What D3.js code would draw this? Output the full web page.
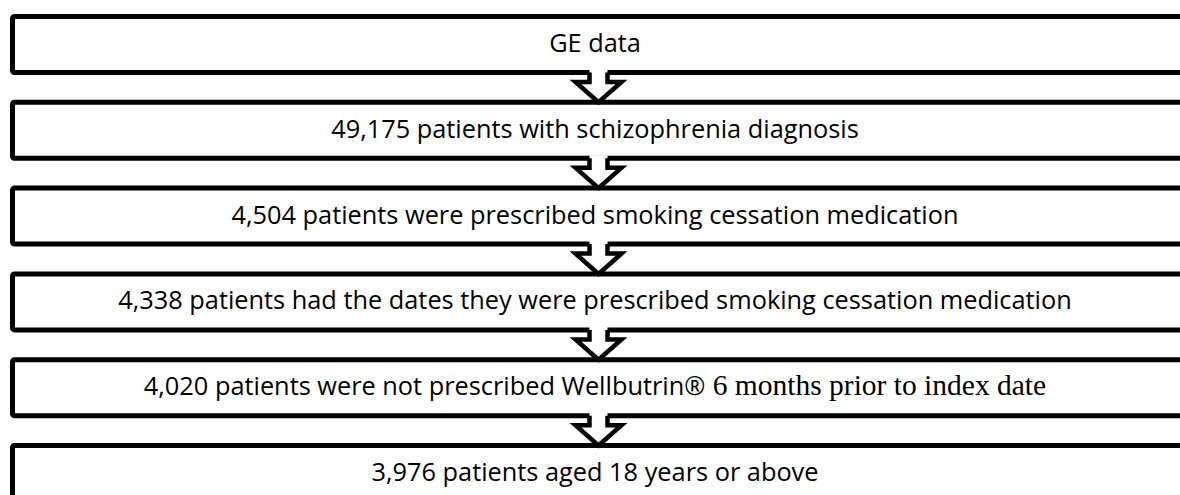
<!DOCTYPE html>
<html>
<head>
<meta charset="utf-8">
<script src="https://cdn.jsdelivr.net/npm/d3@7"></script>
<style>
  html, body { margin: 0; padding: 0; background: #fff; }
  svg { display: block; }
</style>
</head>
<body>
<div id="chart"></div>
<script>
// ---- data ----
const steps = [
  "GE data",
  "49,175 patients with schizophrenia diagnosis",
  "4,504 patients were prescribed smoking cessation medication",
  "4,338 patients had the dates they were prescribed smoking cessation medication",
  "4,020 patients were not prescribed Wellbutrin®",
  "3,976 patients aged 18 years or above"
];
const serifTails = ["", "", "", "", " 6 months prior to index date", ""];

// ---- layout ----
const W = 1180, H = 495;
const boxOuterH = 61, border = 5;
const textCX = 595, arrowCX = 598.5;
const shaftHalf = 9, wingHalf = 23, wingDrop = 9.5;
const targetWidestText = 954;

const svg = d3.select("#chart").append("svg")
  .attr("width", W).attr("height", H);

const y = d3.scaleLinear().domain([0, steps.length - 1]).range([14, 443]);

// boxes
svg.selectAll("rect.box").data(steps).join("rect")
  .attr("class", "box")
  .attr("x", 10 + border / 2)
  .attr("y", (d, i) => y(i) + border / 2)
  .attr("width", 1250)
  .attr("height", boxOuterH - border)
  .attr("rx", 2)
  .attr("fill", "#fff")
  .attr("stroke", "#000")
  .attr("stroke-width", border);

// arrows
const arrows = d3.range(steps.length - 1).map(i => {
  const yb = y(i) + boxOuterH - border / 2;
  const yt = y(i + 1) + border / 2;
  return { yb, yw: yb + wingDrop, yt };
});
const cx = arrowCX;
svg.selectAll("path.afill").data(arrows).join("path")
  .attr("class", "afill")
  .attr("d", a => d3.line()([
    [cx - shaftHalf, a.yb - 3], [cx - shaftHalf, a.yw], [cx - wingHalf, a.yw],
    [cx, a.yt], [cx + wingHalf, a.yw], [cx + shaftHalf, a.yw], [cx + shaftHalf, a.yb - 3]
  ]) + "Z")
  .attr("fill", "#fff").attr("stroke", "none");
svg.selectAll("path.aline").data(arrows).join("path")
  .attr("class", "aline")
  .attr("d", a => d3.line()([
    [cx - shaftHalf, a.yb], [cx - shaftHalf, a.yw], [cx - wingHalf, a.yw],
    [cx, a.yt], [cx + wingHalf, a.yw], [cx + shaftHalf, a.yw], [cx + shaftHalf, a.yb]
  ]))
  .attr("fill", "none").attr("stroke", "#000")
  .attr("stroke-width", 4.5).attr("stroke-linejoin", "miter");

// text
let sansSize = 25;
const texts = svg.selectAll("text.lbl").data(steps).join("text")
  .attr("class", "lbl")
  .attr("x", textCX)
  .attr("y", (d, i) => y(i) + boxOuterH / 2 + 7.5)
  .attr("text-anchor", "middle")
  .attr("fill", "#000");
texts.append("tspan")
  .attr("class", "sans")
  .style("font-family", "'Open Sans', sans-serif")
  .style("font-size", sansSize + "px")
  .text(d => d);
texts.filter((d, i) => serifTails[i]).append("tspan")
  .style("font-family", "'Liberation Serif', 'Times New Roman', serif")
  .style("font-size", "29.5px")
  .text((d, i) => serifTails[steps.indexOf(d)]);

// fit sans size to widest text
let widest = 0, widestIdx = 0;
texts.each(function(d, i) {
  const w = this.getComputedTextLength();
  if (!serifTails[i] && w > widest) { widest = w; widestIdx = i; }
});
if (widest > 0) {
  sansSize = sansSize * targetWidestText / widest;
  texts.selectAll("tspan.sans").style("font-size", sansSize + "px");
}
</script>
</body>
</html>
